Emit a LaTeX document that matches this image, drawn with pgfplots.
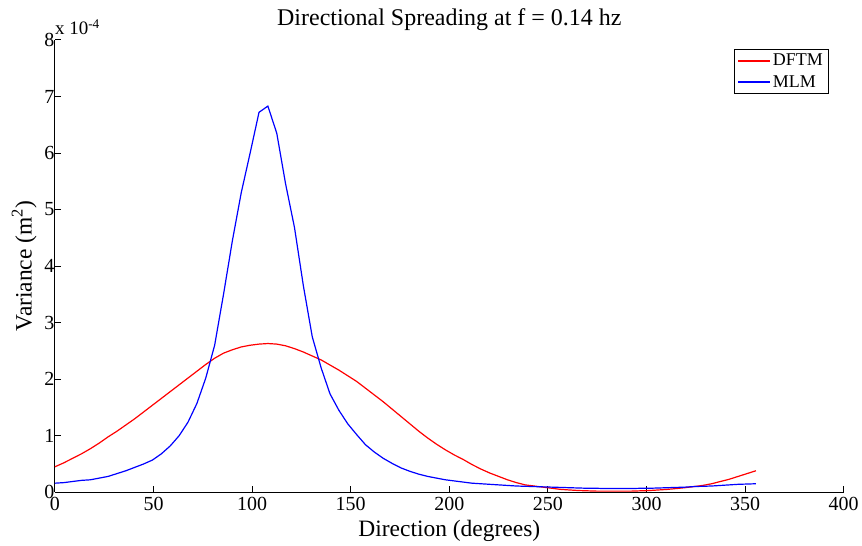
\documentclass[border=0pt]{standalone}
\usepackage{pgfplots}
\pgfplotsset{compat=1.18}
\usepackage{fontspec}
\setmainfont{Liberation Serif}
\pgfplotstableread{
x y
0 0.45
4.5 0.52
9 0.60
13.5 0.68
18 0.77
22.5 0.87
27 0.98
31.5 1.08
36 1.19
40.5 1.30
45 1.42
49.5 1.54
54 1.66
58.5 1.78
63 1.90
67.5 2.02
72 2.14
76.5 2.26
81 2.37
85.5 2.46
90 2.52
94.5 2.57
99 2.60
103.5 2.62
108 2.63
112.5 2.62
117 2.59
121.5 2.54
126 2.48
130.5 2.41
135 2.34
139.5 2.25
144 2.16
148.5 2.06
153 1.96
157.5 1.84
162 1.72
166.5 1.60
171 1.47
175.5 1.34
180 1.21
184.5 1.08
189 0.96
193.5 0.85
198 0.75
202.5 0.66
207 0.58
211.5 0.49
216 0.41
220.5 0.34
225 0.28
229.5 0.22
234 0.17
238.5 0.13
243 0.11
247.5 0.09
252 0.07
256.5 0.05
261 0.04
265.5 0.03
270 0.025
274.5 0.02
279 0.02
283.5 0.02
288 0.02
292.5 0.02
297 0.025
301.5 0.03
306 0.04
310.5 0.05
315 0.065
319.5 0.08
324 0.10
328.5 0.12
333 0.15
337.5 0.19
342 0.23
346.5 0.28
351 0.33
355.5 0.38
}\dftm
\pgfplotstableread{
x y
0 0.16
4.5 0.17
9 0.19
13.5 0.21
18 0.22
22.5 0.25
27 0.28
31.5 0.33
36 0.38
40.5 0.44
45 0.50
49.5 0.57
54 0.68
58.5 0.82
63 1.00
67.5 1.24
72 1.57
76.5 2.02
81 2.60
85.5 3.50
90 4.45
94.5 5.30
99 6.00
103.5 6.72
108 6.83
112.5 6.35
117 5.45
121.5 4.68
126 3.65
130.5 2.75
135 2.20
139.5 1.74
144 1.45
148.5 1.21
153 1.02
157.5 0.84
162 0.71
166.5 0.60
171 0.51
175.5 0.43
180 0.37
184.5 0.32
189 0.28
193.5 0.25
198 0.22
202.5 0.20
207 0.18
211.5 0.16
216 0.15
220.5 0.14
225 0.13
229.5 0.12
234 0.11
238.5 0.105
243 0.10
247.5 0.095
252 0.09
256.5 0.085
261 0.08
265.5 0.075
270 0.07
274.5 0.07
279 0.065
283.5 0.065
288 0.065
292.5 0.065
297 0.07
301.5 0.07
306 0.075
310.5 0.08
315 0.085
319.5 0.09
324 0.10
328.5 0.105
333 0.11
337.5 0.12
342 0.13
346.5 0.14
351 0.145
355.5 0.15
}\mlm
\begin{document}
\begin{tikzpicture}
\begin{axis}[
  scale only axis,
  width=790pt, height=453pt,
  xmin=0, xmax=400, ymin=0, ymax=8,
  axis x line*=bottom, axis y line*=left,
  axis line style={line width=1pt, black},
  tick align=inside,
  major tick length=6pt,
  tick style={line width=1pt, black},
  xtick={0,50,...,400}, ytick={0,1,...,8},
  /pgf/number format/assume math mode=true,
  ticklabel style={font=\fontsize{20}{22}\selectfont},
  xticklabel style={yshift=-1pt},
  yticklabel style={xshift=3pt},
  xlabel={Direction (degrees)},
  ylabel={Variance (m\textsuperscript{2})},
  xlabel style={font=\fontsize{23.5}{26}\selectfont, yshift=-3pt},
  ylabel style={font=\fontsize{23.5}{26}\selectfont, yshift=1pt},
  title={Directional Spreading at f = 0.14 hz},
  title style={font=\fontsize{24}{26}\selectfont, yshift=0pt},
  legend style={at={(0.98,0.98)}, anchor=north east,
    font=\fontsize{18}{20}\selectfont, inner sep=3pt, row sep=4pt, cells={anchor=west}},
  legend cell align=left,
  legend image post style={xscale=1.85, line width=1.7pt},
  clip=false,
]
\addplot[color=red, line width=1.2pt] table[x=x,y=y] {\dftm};
\addlegendentry{DFTM}
\addplot[color=blue, line width=1.2pt] table[x=x,y=y] {\mlm};
\addlegendentry{MLM}
\node[anchor=south west, font=\fontsize{19}{21}\selectfont, inner sep=0pt, yshift=5pt] at (rel axis cs:0,1) {x 10\textsuperscript{-4}};
\end{axis}
\path (current axis.south west) ++(-55pt,-53pt);
\path (current axis.north east) ++(17pt,40pt);
\end{tikzpicture}
\end{document}
